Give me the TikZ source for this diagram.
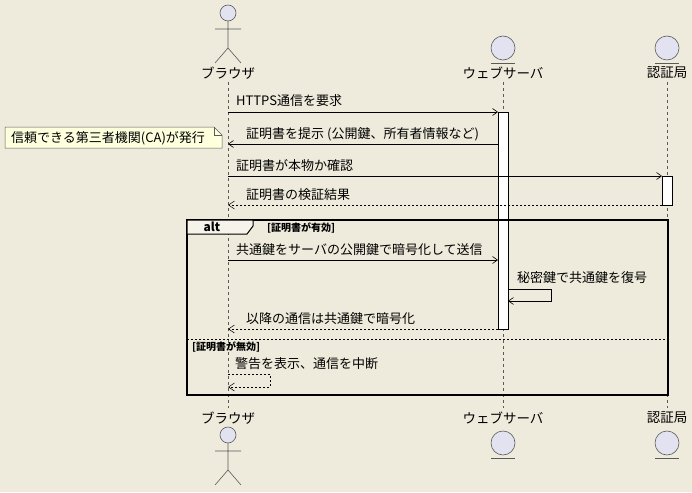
\documentclass[tikz,border=0pt]{standalone}
\usepackage{fontspec}
\setmainfont{Noto Sans CJK JP}
\usetikzlibrary{arrows.meta}
\definecolor{bg}{RGB}{238,235,220}
\definecolor{partfill}{RGB}{226,226,240}
\definecolor{partline}{RGB}{90,90,90}
\definecolor{notefill}{RGB}{254,255,221}
\tikzset{>={Straight Barb[length=5pt,width=7pt]},
  lbl/.style = {font=\fontsize{13.5}{15}\selectfont, inner sep=0pt},
  msg/.style = {font=\fontsize{13}{15}\selectfont, inner sep=0pt, anchor=base west},
  cond/.style = {msg, font=\bfseries\fontsize{10}{12}\selectfont},
  life/.style = {dashed, dash pattern=on 3pt off 3pt, partline, line width=0.4pt},
  act/.style = {draw=black, fill=white, line width=0.6pt},
  call/.style = {->, line width=0.6pt},
  reply/.style = {->, >={Straight Barb[length=6pt,width=8pt,open]}, dashed, dash pattern=on 2pt off 2pt, line width=0.5pt},
  part/.style = {draw=partline, fill=partfill, line width=0.6pt}}
\newcommand{\actorfig}[2]{%
  \draw[part] (#1,#2) circle (8);
  \draw[partline, line width=0.6pt] (#1,#2+8) -- (#1,#2+35) (#1-13,#2+16) -- (#1+13,#2+16)
     (#1-13,#2+50) -- (#1,#2+35) -- (#1+13,#2+50);}
\newcommand{\entityfig}[2]{%
  \draw[part] (#1,#2) circle (12);
  \draw[partline, line width=0.6pt] (#1-12,#2+15) -- (#1+12,#2+15);}
\begin{document}
\begin{tikzpicture}[x=1pt,y=-1pt]
\fill[bg] (0,0) rectangle (692,492);
\useasboundingbox (0,0) rectangle (692,492);
% lifelines
\draw[life] (228,82) -- (228,408);
\draw[life] (503,82) -- (503,408);
\draw[life] (667,82) -- (667,408);
% participants
\actorfig{228}{13}
\node[lbl] (bTop) at (228,73) {ブラウザ};
\entityfig{503}{48}
\node[lbl] (sTop) at (503,73) {ウェブサーバ};
\entityfig{667}{48}
\node[lbl] (cTop) at (667,73) {認証局};
\node[lbl] (bBot) at (228,418) {ブラウザ};
\actorfig{228}{435}
\node[lbl] (sBot) at (503,418) {ウェブサーバ};
\entityfig{503}{443}
\node[lbl] (cBot) at (667,418) {認証局};
\entityfig{667}{443}
% activations
\draw[act] (498,112) rectangle (508,329);
\draw[act] (662,176) rectangle (672,205);
% messages
\coordinate (m1b) at (228,112); \coordinate (m1s) at (498,112);
\draw[call] (m1b) -- (m1s);
\node[msg] at (236,106) {HTTPS通信を要求};
\coordinate (m2s) at (498,144); \coordinate (m2b) at (228,144);
\draw[call] (m2s) -- (m2b);
\node[msg] at (246,138) {証明書を提示 (公開鍵、所有者情報など)};
% note
\draw[partline, fill=notefill, line width=0.5pt] (5,127) -- (214,127) -- (222,135) -- (222,148) -- (5,148) -- cycle;
\draw[partline, line width=0.5pt] (214,127) -- (214,135) -- (222,135);
\node[msg] (note) at (11,142) {信頼できる第三者機関(CA)が発行};
\coordinate (m3b) at (228,176); \coordinate (m3c) at (662,176);
\draw[call] (m3b) -- (m3c);
\node[msg] at (236,170) {証明書が本物か確認};
\coordinate (m4c) at (662,205); \coordinate (m4b) at (228,205);
\draw[reply] (m4c) -- (m4b);
\node[msg] at (246,199) {証明書の検証結果};
% alt fragment
\draw[line width=1.3pt] (187,220) rectangle (668,395);
\draw[line width=1pt, fill=bg!60!white] (187,220) -- (253,220) -- (253,226) -- (247,234) -- (187,234) -- cycle;
\node[font=\bfseries\fontsize{12}{14}\selectfont, inner sep=0pt] at (212,227) {alt};
\node[cond] at (267,231) {[証明書が有効]};
\coordinate (m5b) at (228,260); \coordinate (m5s) at (498,260);
\draw[call] (m5b) -- (m5s);
\node[msg] at (236,254) {共通鍵をサーバの公開鍵で暗号化して送信};
\coordinate (m6a) at (508,289); \coordinate (m6b) at (551,289);
\coordinate (m6c) at (551,301); \coordinate (m6d) at (508,301);
\draw[call] (m6a) -- (m6b) -- (m6c) -- (m6d);
\node[msg] at (517,282) {秘密鍵で共通鍵を復号};
\coordinate (m7s) at (498,329); \coordinate (m7b) at (228,329);
\draw[reply] (m7s) -- (m7b);
\node[msg] at (246,323) {以降の通信は共通鍵で暗号化};
\draw[dashed, dash pattern=on 2pt off 2pt, line width=0.6pt] (187,339) -- (668,339);
\node[cond] at (192,350) {[証明書が無効]};
\coordinate (m8a) at (228,374); \coordinate (m8b) at (270,374);
\coordinate (m8c) at (270,387); \coordinate (m8d) at (228,387);
\draw[reply] (m8a) -- (m8b) -- (m8c) -- (m8d);
\node[msg] at (235,368) {警告を表示、通信を中断};
\end{tikzpicture}
\end{document}
